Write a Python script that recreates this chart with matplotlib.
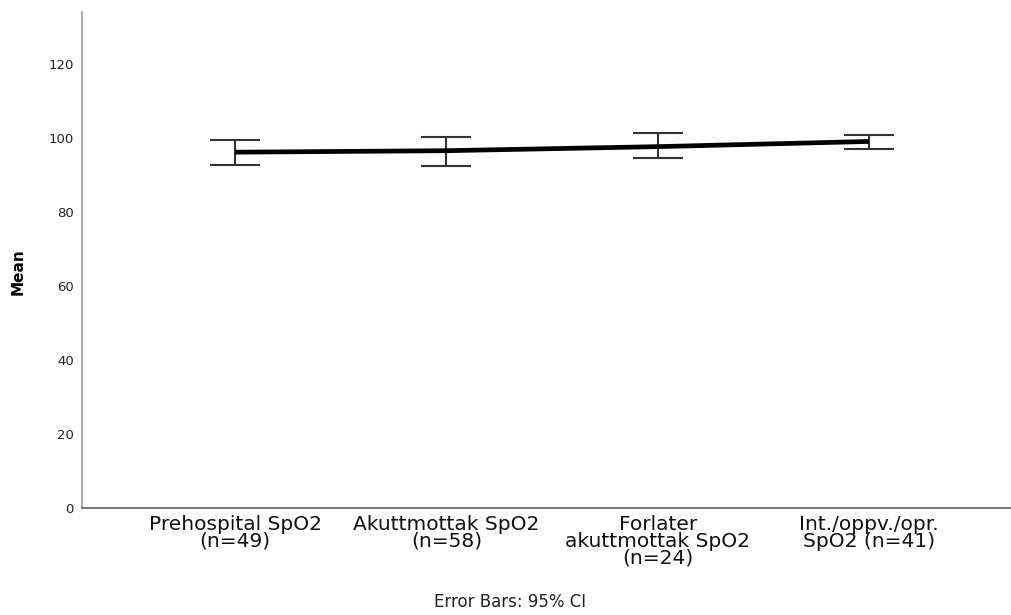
import matplotlib
matplotlib.use("Agg")
import matplotlib.pyplot as plt

categories = ["Prehospital SpO2\n(n=49)", "Akuttmottak SpO2\n(n=58)",
              "Forlater\nakuttmottak SpO2\n(n=24)", "Int./oppv./opr.\nSpO2 (n=41)"]
means = [96.2, 96.6, 97.7, 99.1]
ci_low = [92.7, 92.5, 94.5, 97.0]
ci_high = [99.5, 100.4, 101.4, 100.9]
yticks = [0, 20, 40, 60, 80, 100, 120]

fig = plt.figure(figsize=(10.12, 6.15), dpi=100)
ax_w = 1 - 82/1012
ax_h = (508 - 12)/615
ax = fig.add_axes([82/1012, 1 - 508/615, ax_w, ax_h])

x = list(range(len(categories)))
yerr = [[m - l for m, l in zip(means, ci_low)], [h - m for m, h in zip(means, ci_high)]]
ax.errorbar(x, means, yerr=yerr, fmt="none", ecolor="#333333", elinewidth=1.5,
            capsize=18, capthick=1.5, zorder=2)
ax.plot(x, means, color="black", linewidth=3.4, solid_capstyle="butt", zorder=3)

ax.set_xlim(-0.724, 3.676)
ax.set_ylim(0, 134.1)
ax.set_yticks(yticks)
ax.set_yticklabels([str(t) for t in yticks], fontsize=9.5, color="#222222")
ax.set_xticks(x)
ax.set_xticklabels(categories, fontsize=14.5, family="DejaVu Sans",
                   linespacing=0.84, color="#111111")
ax.tick_params(axis="both", length=0)
ax.tick_params(axis="y", pad=6)
ax.tick_params(axis="x", pad=5)

for s in ["top", "right"]:
    ax.spines[s].set_visible(False)
ax.spines["left"].set_color("#aaaaaa")
ax.spines["left"].set_linewidth(1.5)
ax.spines["bottom"].set_color("#666666")
ax.spines["bottom"].set_linewidth(1.2)

ax.set_ylabel("Mean", fontsize=11, fontweight="bold")
ax.yaxis.set_label_coords((26 - 82)/930, (508 - 272)/496)
fig.text(510/1012, 1 - 602/615, "Error Bars: 95% CI", ha="center", va="center",
         fontsize=12, family="DejaVu Sans", color="#222222")

fig.savefig("out.png", dpi=100)
